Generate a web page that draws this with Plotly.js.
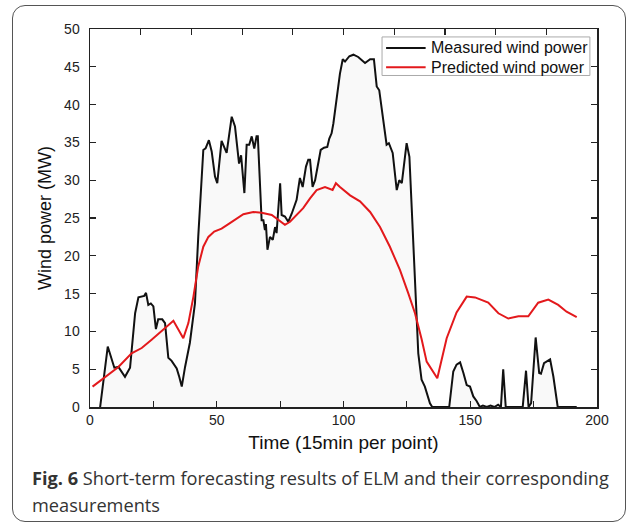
<!DOCTYPE html>
<html>
<head>
<meta charset="utf-8">
<script src="https://cdn.plot.ly/plotly-3.0.1.min.js"></script>
<style>
html,body{margin:0;padding:0;background:#fff;}
#wrap{position:relative;width:637px;height:526px;}
#chart{position:absolute;left:0;top:0;width:637px;height:526px;}
#frame{position:absolute;left:12px;top:5px;width:612px;height:515px;border:1.5px solid #555;border-radius:13px;pointer-events:none;}
</style>
</head>
<body>
<div id="wrap"><div id="chart"></div><div id="frame"></div></div>
<script>
// Measured wind power (black)
const measuredX = [4, 7, 9.6, 11.2, 13.8, 15.8, 17.8, 19.1, 21.4, 22.1, 23, 24, 25, 26, 26.9, 28.5, 29.6, 30.9, 32.2, 34.2, 35.2, 36.2, 37.5, 39.4, 41.4, 42.7, 44.7, 45.6, 46.9, 48, 49.3, 50.2, 51.9, 53.9, 55.9, 57.2, 58.8, 59.6, 60.9, 61.8, 62.8, 63.8, 64.8, 65.7, 66.2, 67.7, 68.4, 69, 69.4, 70, 71, 72.1, 73, 73.6, 75, 75.6, 76.9, 78.2, 79.6, 81.5, 82.8, 83.9, 85.2, 86.1, 86.8, 87.8, 88.8, 90.1, 91, 92.3, 93.6, 94.4, 95.3, 96, 97.3, 98.6, 99.7, 100.6, 102.3, 103.9, 105.8, 108.5, 110.5, 112, 113.1, 114.1, 115.5, 116.4, 117, 117.9, 119.4, 121, 122, 123, 123.9, 124.9, 126, 126.9, 128.2, 129.5, 130.8, 132.1, 134.1, 135, 141.7, 143.3, 144.6, 146, 147.3, 148.6, 149.9, 151.2, 152.5, 153.8, 155, 156.5, 158, 159.5, 161, 162.1, 163, 164, 167, 170.7, 172, 173, 174, 175.8, 177.2, 177.9, 179.1, 180.8, 181.5, 182.8, 184.5, 192];
const measuredY = [0, 8.0, 5.2, 5.3, 4.0, 5.2, 12.4, 14.5, 14.7, 15.1, 13.5, 13.7, 13.3, 10.3, 11.6, 11.6, 11.1, 6.5, 6.1, 5.1, 4.0, 2.7, 5.3, 8.5, 13.7, 22.5, 34.0, 34.2, 35.3, 33.8, 30.5, 29.6, 35.2, 33.6, 38.4, 37.1, 32.2, 33.3, 28.3, 34.7, 34.7, 35.8, 34.2, 35.8, 35.8, 24.7, 24.7, 23.4, 24.2, 20.8, 22.5, 22.1, 23.8, 23.0, 29.6, 25.4, 25.2, 24.5, 25.6, 27.4, 30.3, 29.1, 31.8, 32.7, 32.7, 29.1, 30.0, 32.7, 34.0, 34.3, 34.4, 35.5, 36.2, 37.5, 40.6, 44.1, 46.0, 45.7, 46.4, 46.6, 46.3, 45.5, 46.0, 46.0, 42.4, 41.9, 38.4, 35.8, 34.7, 34.9, 33.6, 28.7, 30.0, 29.6, 32.2, 34.9, 33.1, 26.5, 15.9, 7.1, 3.6, 2.7, 0.5, 0, 0, 4.7, 5.6, 5.9, 4.5, 2.9, 2.7, 1.4, 0.8, 0, 0.2, 0, 0.2, 0, 0.3, 0, 5.0, 0, 0, 0, 4.8, 0, 0.5, 9.2, 4.5, 4.4, 5.8, 6.2, 6.3, 4.0, 0, 0];

// Predicted wind power (red)
const predictedX = [1, 5.9, 11.2, 16.4, 20.4, 24.3, 28.9, 32.9, 36.8, 38.8, 40.8, 42.7, 44.7, 46.7, 49, 51.9, 54.6, 57.2, 60.5, 64.4, 67.7, 71.7, 75, 76.9, 78.9, 81.5, 84.1, 86.8, 89.4, 92.7, 95.7, 97, 98.6, 102.6, 106.5, 110.5, 114.4, 118.3, 122.3, 125.6, 128.2, 130.8, 132.8, 137, 140.7, 144.6, 148.6, 151.9, 157.1, 161.1, 165, 169, 172.9, 176.8, 180.8, 184.7, 188, 192];
const predictedY = [2.7, 4.0, 5.3, 7.1, 7.8, 8.9, 10.2, 11.4, 9.1, 11.1, 14.6, 18.6, 21.2, 22.5, 23.2, 23.6, 24.2, 24.8, 25.5, 25.8, 25.7, 25.4, 24.5, 24.1, 24.5, 25.4, 26.3, 27.6, 28.7, 29.1, 28.7, 29.6, 29.1, 28.0, 27.2, 25.8, 23.8, 21.2, 18.1, 15.0, 12.4, 9.0, 6.0, 3.8, 9.1, 12.5, 14.6, 14.5, 13.8, 12.4, 11.7, 12.0, 12.0, 13.8, 14.2, 13.5, 12.6, 11.9];

const seriesNames = ['Measured wind power', 'Predicted wind power'];
const seriesColors = ['#111111', '#e3191c'];

const xTickVals = [0, 50, 100, 150, 200];
const yTickVals = [0, 5, 10, 15, 20, 25, 30, 35, 40, 45, 50];

const sansFam = 'Liberation Sans, Arial, sans-serif';
const tickFont = {family: sansFam, size: 14, color: '#222'};
const xTitleFont = {family: sansFam, size: 19, color: '#111'};
const yTitleFont = {family: sansFam, size: 18, color: '#111'};

const traces = [
  {x: measuredX, y: measuredY, type: 'scatter', mode: 'lines', name: seriesNames[0],
   line: {color: seriesColors[0], width: 2}, fill: 'tozeroy', fillcolor: 'rgba(0,0,0,0.025)'},
  {x: predictedX, y: predictedY, type: 'scatter', mode: 'lines', name: seriesNames[1],
   line: {color: seriesColors[1], width: 2}},
  {x: [], y: [], xaxis: 'x2', yaxis: 'y2', showlegend: false, hoverinfo: 'skip', type: 'scatter', mode: 'lines'}
];

// legend drawn as shapes + annotations (box, line samples, labels)
const legRowY = [0.950, 0.899];
const legendShapes = [
  {type: 'rect', xref: 'paper', yref: 'paper', x0: 0.576, x1: 0.986, y0: 0.877, y1: 0.979,
   line: {color: '#aaa', width: 1}, fillcolor: '#fff', layer: 'above'}
].concat(legRowY.map((yy, i) => ({type: 'line', xref: 'paper', yref: 'paper', x0: 0.584, x1: 0.662, y0: yy, y1: yy,
   line: {color: seriesColors[i], width: 2}, layer: 'above'})));
const legendAnn = legRowY.map((yy, i) => ({xref: 'paper', yref: 'paper', x: 0.668, y: yy, xanchor: 'left', yanchor: 'middle',
   showarrow: false, text: seriesNames[i], font: {family: sansFam, size: 16, color: '#111'}}));

const layout = {
  width: 637, height: 526,
  margin: {l: 90, r: 40, t: 29, b: 119},
  paper_bgcolor: 'rgba(0,0,0,0)', plot_bgcolor: '#fff',
  showlegend: false,
  xaxis: {range: [0, 200], tickvals: xTickVals, ticks: 'inside', ticklen: 6, tickwidth: 1.2, tickcolor: '#222',
    minor: {dtick: 25, ticks: 'inside', ticklen: 6, tickcolor: '#222'},
    showline: true, linecolor: '#222', linewidth: 1.5, showgrid: false, zeroline: false,
    tickfont: tickFont, title: {text: 'Time (15min per point)', font: xTitleFont, standoff: 8}},
  yaxis: {range: [0, 50], tickvals: yTickVals, ticks: 'inside', ticklen: 6, tickwidth: 1.2, tickcolor: '#222',
    showline: true, linecolor: '#222', linewidth: 1.5, showgrid: false, zeroline: false,
    tickfont: tickFont, ticklabelstandoff: 6, title: {text: 'Wind power (MW)', font: yTitleFont, standoff: 8}},
  xaxis2: {overlaying: 'x', side: 'top', range: [0, 200], dtick: 20, tick0: 0, ticks: 'inside', ticklen: 6,
    tickwidth: 1.2, tickcolor: '#222', showticklabels: false, showline: true, linecolor: '#222', linewidth: 1.5,
    showgrid: false, zeroline: false},
  yaxis2: {overlaying: 'y', side: 'right', range: [0, 50], dtick: 5, tick0: 0, ticks: 'inside', ticklen: 6,
    tickwidth: 1.2, tickcolor: '#222', showticklabels: false, showline: true, linecolor: '#222', linewidth: 1.5,
    showgrid: false, zeroline: false},
  shapes: legendShapes,
  annotations: legendAnn.concat([
    {xref: 'paper', yref: 'paper', x: -0.118, y: -0.187, xanchor: 'left', yanchor: 'middle', showarrow: false, align: 'left',
     text: '<b>Fig. 6</b> Short-term forecasting results of ELM and their corresponding',
     font: {family: 'Open Sans, sans-serif', size: 18.2, color: '#333'}},
    {xref: 'paper', yref: 'paper', x: -0.118, y: -0.258, xanchor: 'left', yanchor: 'middle', showarrow: false, align: 'left',
     text: 'measurements',
     font: {family: 'Open Sans, sans-serif', size: 18.2, color: '#333'}}
  ])
};

Plotly.newPlot('chart', traces, layout, {displayModeBar: false, staticPlot: true});
</script>
</body>
</html>
